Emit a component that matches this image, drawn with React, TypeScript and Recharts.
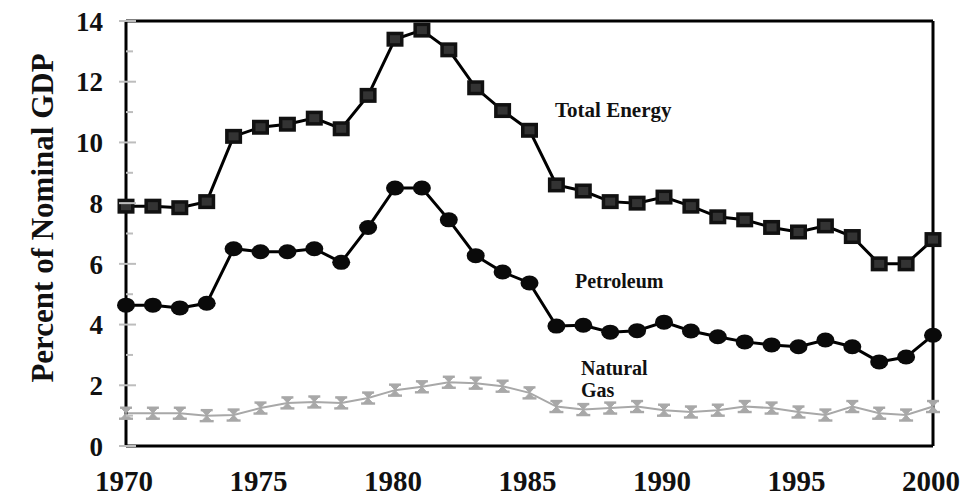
import React from "react";
import { LineChart, Line, XAxis, YAxis, ReferenceLine } from "recharts";

const years = [
  1970, 1971, 1972, 1973, 1974, 1975, 1976, 1977, 1978, 1979, 1980, 1981, 1982, 1983, 1984, 1985,
  1986, 1987, 1988, 1989, 1990, 1991, 1992, 1993, 1994, 1995, 1996, 1997, 1998, 1999, 2000,
];
const totalEnergy = [
  7.9, 7.9, 7.85, 8.05, 10.2, 10.5, 10.6, 10.8, 10.45, 11.55, 13.4, 13.7, 13.05, 11.8, 11.05, 10.4,
  8.6, 8.4, 8.05, 8.0, 8.2, 7.9, 7.55, 7.45, 7.2, 7.05, 7.25, 6.9, 6.0, 6.0, 6.8,
];
const petroleum = [
  4.64, 4.64, 4.55, 4.7, 6.5, 6.4, 6.4, 6.5, 6.05, 7.2, 8.5, 8.5, 7.45, 6.27, 5.73, 5.37,
  3.95, 3.98, 3.75, 3.8, 4.08, 3.79, 3.6, 3.43, 3.33, 3.27, 3.49, 3.27, 2.77, 2.93, 3.65,
];
const naturalGas = [
  1.08, 1.08, 1.08, 1.0, 1.02, 1.25, 1.42, 1.45, 1.42, 1.58, 1.84, 1.95, 2.1, 2.07, 1.97, 1.75,
  1.3, 1.2, 1.25, 1.3, 1.18, 1.12, 1.18, 1.3, 1.25, 1.12, 1.02, 1.3, 1.08, 1.02, 1.3,
];
const xTicks = [1970, 1975, 1980, 1985, 1990, 1995, 2000];
const yTicks = [0, 1, 2, 3, 4, 5, 6, 7, 8, 9, 10, 11, 12, 13, 14];
const yAxisTitle = "Percent of Nominal GDP";
const seriesLabels = { total: "Total Energy", petroleum: "Petroleum", gas1: "Natural", gas2: "Gas" };

const data = years.map((year, i) => ({
  year,
  total: totalEnergy[i],
  petroleum: petroleum[i],
  gas: naturalGas[i],
}));

const FONT = "'Liberation Serif', 'Times New Roman', serif";
const GAS = "#a8a8a8";

const SquareDot = (props: any) => {
  const { cx, cy } = props;
  if (cx == null || cy == null) return null;
  return (
    <g>
      <rect x={cx - 8.5} y={cy - 7.5} width={17} height={15} fill="#111" />
      <rect x={cx - 5} y={cy - 4} width={10} height={8} fill="#333" />
    </g>
  );
};

const CircleDot = (props: any) => {
  const { cx, cy } = props;
  if (cx == null || cy == null) return null;
  return <ellipse cx={cx} cy={cy} rx={9} ry={7.5} fill="#0a0a0a" />;
};

const GasDot = (props: any) => {
  const { cx, cy } = props;
  if (cx == null || cy == null) return null;
  return (
    <g stroke={GAS} strokeWidth={2.4}>
      <line x1={cx - 6} y1={cy - 5.5} x2={cx + 6} y2={cy - 5.5} />
      <line x1={cx - 7} y1={cy + 5.5} x2={cx + 7} y2={cy + 5.5} />
      <path d={`M${cx - 5},${cy - 5.5} L${cx + 5},${cy - 5.5} L${cx},${cy} Z M${cx - 5},${cy + 5.5} L${cx + 5},${cy + 5.5} L${cx},${cy} Z`} fill={GAS} strokeWidth={1} />
    </g>
  );
};

const YTick = (props: any) => {
  const { x, y, payload } = props;
  const v = payload.value;
  const major = v % 2 === 0;
  return (
    <g>
      <line x1={major ? x - 7 : x} x2={x + (major ? 10 : 7)} y1={y} y2={y} stroke="#bdbdbd" strokeWidth={2} />
      {major && (
        <text x={x - 23} y={y} dy="0.36em" textAnchor="end" fontFamily={FONT} fontWeight="bold" fontSize={27} fill="#111">
          {v}
        </text>
      )}
    </g>
  );
};

const XTick = (props: any) => {
  const { x, y, payload } = props;
  return (
    <text x={x - 2} y={y + 45} textAnchor="middle" fontFamily={FONT} fontWeight="bold" fontSize={29} fill="#111">
      {payload.value}
    </text>
  );
};

export default function App() {
  return (
    <div style={{ position: "absolute", left: 0, top: 0, width: 962, height: 503, background: "#fff" }}>
      <LineChart width={962} height={503} data={data} margin={{ top: 21, right: 29, bottom: 0, left: 0 }}>
        <XAxis
          dataKey="year"
          type="number"
          domain={[1970, 2000]}
          ticks={xTicks}
          height={57}
          tickLine={false}
          tickSize={0}
          tickMargin={0}
          axisLine={{ stroke: "#000", strokeWidth: 3 }}
          tick={<XTick />}
          interval={0}
        />
        <YAxis
          type="number"
          domain={[0, 14]}
          ticks={yTicks}
          width={126}
          tickLine={false}
          tickSize={0}
          tickMargin={0}
          axisLine={{ stroke: "#000", strokeWidth: 3 }}
          tick={<YTick />}
          interval={0}
        />
        <ReferenceLine y={14} stroke="#000" strokeWidth={3} />
        <ReferenceLine x={2000} stroke="#000" strokeWidth={3} />
        <Line dataKey="gas" stroke={GAS} strokeWidth={2} dot={<GasDot />} isAnimationActive={false} />
        <Line dataKey="petroleum" stroke="#000" strokeWidth={3} dot={<CircleDot />} isAnimationActive={false} />
        <Line dataKey="total" stroke="#000" strokeWidth={3} dot={<SquareDot />} isAnimationActive={false} />
      </LineChart>
      <svg
        width={962}
        height={503}
        style={{ position: "absolute", left: 0, top: 0, pointerEvents: "none" }}
        fontFamily={FONT}
        fontWeight="bold"
        fill="#111"
      >
        <text x={53} y={218} textAnchor="middle" fontSize={31} transform="rotate(-90 53 218)">
          {yAxisTitle}
        </text>
        <text x={555} y={117} fontSize={21}>{seriesLabels.total}</text>
        <text x={575} y={288} fontSize={20}>{seriesLabels.petroleum}</text>
        <text x={581} y={375} fontSize={20}>{seriesLabels.gas1}</text>
        <text x={581} y={397} fontSize={20}>{seriesLabels.gas2}</text>
      </svg>
    </div>
  );
}
